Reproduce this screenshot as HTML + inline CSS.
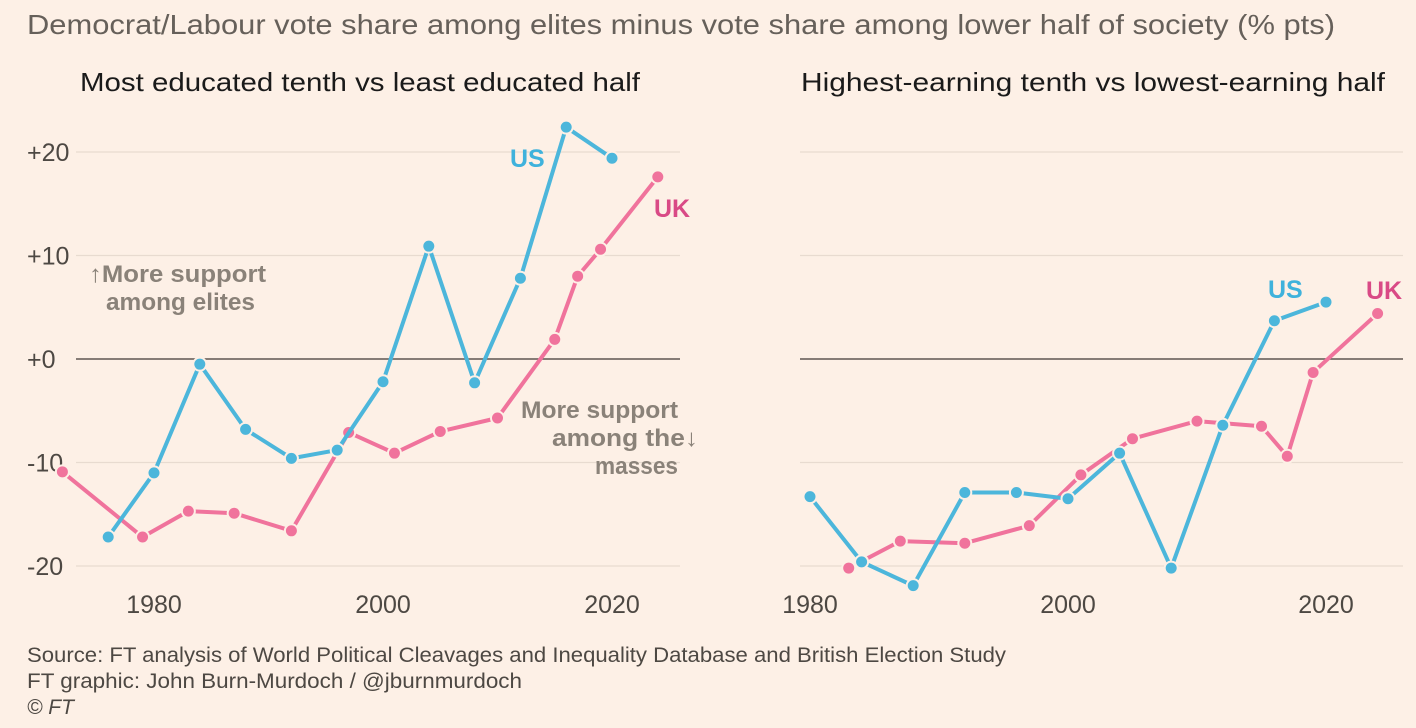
<!DOCTYPE html>
<html><head><meta charset="utf-8"><style>
html,body{margin:0;padding:0;background:#fdf0e6;}
svg{display:block;font-family:"Liberation Sans",sans-serif;}
</style></head><body>
<svg id="c" width="1416" height="728">
<rect width="1416" height="728" fill="#fdf0e6"/>
<text x="27" y="34" font-size="28" textLength="1308" lengthAdjust="spacingAndGlyphs" fill="#66605a">Democrat/Labour vote share among elites minus vote share among lower half of society (% pts)</text>
<text x="80" y="91" font-size="26" textLength="560" lengthAdjust="spacingAndGlyphs" fill="#1a1a1a">Most educated tenth vs least educated half</text>
<text x="801" y="91" font-size="26" textLength="584" lengthAdjust="spacingAndGlyphs" fill="#1a1a1a">Highest-earning tenth vs lowest-earning half</text>
<g id="grid"></g>
<g id="marks"></g>
<text x="89" y="282" font-size="24" textLength="177" lengthAdjust="spacingAndGlyphs" font-weight="bold" fill="#8a8279">↑More support</text>
<text x="106" y="310" font-size="24" textLength="149" lengthAdjust="spacingAndGlyphs" font-weight="bold" fill="#8a8279">among elites</text>
<text x="521" y="418" font-size="24" textLength="157" lengthAdjust="spacingAndGlyphs" font-weight="bold" fill="#8a8279">More support</text>
<text x="552" y="446" font-size="24" textLength="146" lengthAdjust="spacingAndGlyphs" font-weight="bold" fill="#8a8279">among the↓</text>
<text x="595" y="474" font-size="24" textLength="83" lengthAdjust="spacingAndGlyphs" font-weight="bold" fill="#8a8279">masses</text>
<text x="510" y="167" font-size="25" font-weight="bold" fill="#3fb2dc">US</text>
<text x="654" y="217" font-size="25" font-weight="bold" fill="#d94a86">UK</text>
<text x="1268" y="298" font-size="25" font-weight="bold" fill="#3fb2dc">US</text>
<text x="1366" y="299" font-size="25" font-weight="bold" fill="#d94a86">UK</text>
<text x="27" y="662" font-size="21" textLength="979" lengthAdjust="spacingAndGlyphs" fill="#4d4843">Source: FT analysis of World Political Cleavages and Inequality Database and British Election Study</text>
<text x="27" y="688" font-size="21" textLength="495" lengthAdjust="spacingAndGlyphs" fill="#4d4843">FT graphic: John Burn-Murdoch / @jburnmurdoch</text>
<text x="27" y="714" font-size="21" font-style="italic" fill="#4d4843">© FT</text>
</svg>
<script>
const yTicks=[20,10,0,-10,-20];
const yTickLabels=["+20","+10","+0","-10","-20"];
const xTicks=[1980,2000,2020];
const leftUSYears=[1976,1980,1984,1988,1992,1996,2000,2004,2008,2012,2016,2020];
const leftUSValues=[-17.2,-11,-0.5,-6.8,-9.6,-8.8,-2.2,10.9,-2.3,7.8,22.4,19.4];
const leftUKYears=[1972,1979,1983,1987,1992,1997,2001,2005,2010,2015,2017,2019,2024];
const leftUKValues=[-10.9,-17.2,-14.7,-14.9,-16.6,-7.1,-9.1,-7,-5.7,1.9,8,10.6,17.6];
const rightUSYears=[1980,1984,1988,1992,1996,2000,2004,2008,2012,2016,2020];
const rightUSValues=[-13.3,-19.6,-21.9,-12.9,-12.9,-13.5,-9.1,-20.2,-6.4,3.7,5.5];
const rightUKYears=[1983,1987,1992,1997,2001,2005,2010,2015,2017,2019,2024];
const rightUKValues=[-20.2,-17.6,-17.8,-16.1,-11.2,-7.7,-6,-6.5,-9.4,-1.3,4.4];

const NS="http://www.w3.org/2000/svg";
const yS=v=>359-v*10.35;
const xL=y=>154+(y-1980)*11.45;
const xR=y=>810+(y-1980)*12.9;
const grid=document.getElementById('grid'),marks=document.getElementById('marks');
function mk(t,a,p){const e=document.createElementNS(NS,t);for(const k in a)e.setAttribute(k,a[k]);p.appendChild(e);return e;}
yTicks.forEach((v,i)=>{
  [[76,680],[800,1403]].forEach((r,j)=>{
    const l=mk('line',{x1:r[0],x2:r[1],y1:yS(v),y2:yS(v),stroke:v===0?'#5e5650':'#e8dbd0','stroke-width':v===0?1.6:1.3},grid);
    
    
  });
  const t=mk('text',{x:27,y:yS(v)+9,'font-size':25,fill:'#4d4843'},grid);
  t.textContent=yTickLabels[i];
  
  
});
xTicks.forEach(y=>{
  [xL,xR].forEach((f,j)=>{
    const t=mk('text',{x:f(y),y:613,'font-size':25,fill:'#4d4843','text-anchor':'middle'},grid);
    t.textContent=y;
    
    
  });
});
function series(xs,vs,fx,col,name){
  const g=mk('g',{},marks);
  
  
  const pts=xs.map((x,i)=>fx(x)+','+yS(vs[i])).join(' ');
  const pl=mk('polyline',{points:pts,fill:'none',stroke:col,'stroke-width':4,'stroke-linejoin':'round'},g);
  
  
  xs.forEach((x,i)=>{
    const c=mk('circle',{cx:fx(x),cy:yS(vs[i]),r:6.5,fill:col,stroke:'#fdf0e6','stroke-width':2},g);
    
    
  });
}
series(leftUKYears,leftUKValues,xL,'#f0739c','left-uk-series');
series(leftUSYears,leftUSValues,xL,'#4cb6db','left-us-series');
series(rightUKYears,rightUKValues,xR,'#f0739c','right-uk-series');
series(rightUSYears,rightUSValues,xR,'#4cb6db','right-us-series');
</script>
</body></html>
